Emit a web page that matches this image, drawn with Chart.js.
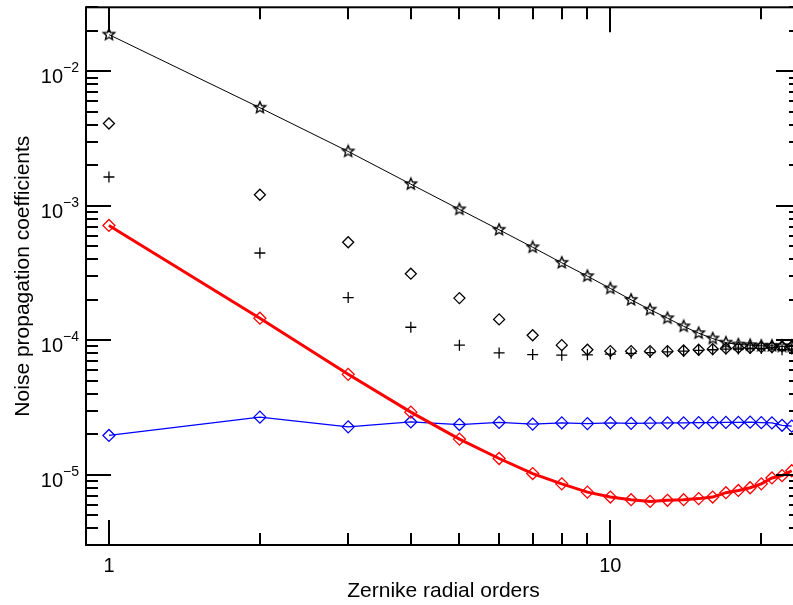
<!DOCTYPE html>
<html>
<head>
<meta charset="utf-8">
<script src="https://cdn.jsdelivr.net/npm/chart.js@4"></script>
<style>
html, body { margin: 0; padding: 0; background: #fff; overflow: hidden; }
#wrap { width: 810px; height: 605px; }
</style>
</head>
<body>
<div id="wrap"><canvas id="chart" width="810" height="605"></canvas></div>
<script>
// --- Data ---
const orders = [1,2,3,4,5,6,7,8,9,10,11,12,13,14,15,16,17,18,19,20,21,22,23];
const starVals = [1.88e-2,5.37e-3,2.54e-3,1.45e-3,9.42e-4,6.64e-4,4.92e-4,3.77e-4,3.0e-4,2.43e-4,2.0e-4,1.69e-4,1.46e-4,1.27e-4,1.13e-4,1.03e-4,9.6e-5,9.3e-5,9.2e-5,9.1e-5,9.1e-5,9.0e-5,9.0e-5];
const diamondVals = [4.1e-3,1.21e-3,5.36e-4,3.13e-4,2.06e-4,1.43e-4,1.09e-4,9.2e-5,8.5e-5,8.3e-5,8.3e-5,8.3e-5,8.3e-5,8.4e-5,8.5e-5,8.6e-5,8.7e-5,8.8e-5,8.8e-5,8.9e-5,8.9e-5,9.0e-5,9.0e-5];
const plusVals = [1.64e-3,4.46e-4,2.08e-4,1.25e-4,9.2e-5,8.05e-5,7.83e-5,7.75e-5,7.8e-5,7.9e-5,8.0e-5,8.1e-5,8.2e-5,8.3e-5,8.4e-5,8.5e-5,8.6e-5,8.6e-5,8.7e-5,8.7e-5,8.8e-5,8.5e-5,8.6e-5];
const redVals = [7.15e-4,1.46e-4,5.58e-5,2.92e-5,1.84e-5,1.32e-5,1.02e-5,8.55e-6,7.42e-6,6.82e-6,6.52e-6,6.33e-6,6.45e-6,6.52e-6,6.64e-6,6.82e-6,7.35e-6,7.64e-6,8.0e-6,8.55e-6,9.46e-6,9.84e-6,1.07e-5];
const blueVals = [1.96e-5,2.68e-5,2.27e-5,2.47e-5,2.36e-5,2.45e-5,2.38e-5,2.43e-5,2.40e-5,2.43e-5,2.41e-5,2.42e-5,2.43e-5,2.43e-5,2.44e-5,2.44e-5,2.45e-5,2.45e-5,2.46e-5,2.44e-5,2.43e-5,2.33e-5,2.30e-5];

const xTickLabels = ['1', '10'];
const yDecades = [-5, -4, -3, -2];
const xTitle = 'Zernike radial orders';
const yTitle = 'Noise propagation coefficients';

const FONT = '"Liberation Sans", Arial, sans-serif';

// --- Marker: open five-point star ---
function starImage(r) {
  const c = document.createElement('canvas');
  const s = Math.ceil(r * 2 + 4);
  c.width = s; c.height = s;
  const g = c.getContext('2d');
  g.translate(s / 2, s / 2);
  g.beginPath();
  for (let i = 0; i < 10; i++) {
    const a = -Math.PI / 2 + i * Math.PI / 5;
    const rr = i % 2 ? r * 0.45 : r;
    g.lineTo(rr * Math.cos(a), rr * Math.sin(a));
  }
  g.closePath();
  g.strokeStyle = '#000';
  g.lineWidth = 1.4;
  g.stroke();
  return c;
}

const pts = vals => orders.map((o, i) => ({ x: o, y: vals[i] }));

// --- Frame, ticks and labels drawn IDL style ---
const frame = {
  id: 'frame',
  afterDraw(chart) {
    const { ctx, chartArea: a, scales: { x, y } } = chart;
    ctx.save();
    ctx.strokeStyle = '#000';
    ctx.lineWidth = 2;
    const line = (x1, y1, x2, y2) => { ctx.beginPath(); ctx.moveTo(x1, y1); ctx.lineTo(x2, y2); ctx.stroke(); };
    ctx.strokeRect(a.left, a.top, a.right - a.left, a.bottom - a.top);

    // x ticks
    for (let d = 0; d <= 1; d++) {
      for (let m = 1; m <= 9; m++) {
        const v = m * Math.pow(10, d);
        if (v < x.min || v > x.max) continue;
        const px = Math.round(x.getPixelForValue(v));
        const len = m === 1 ? 25 : 12;
        line(px, a.bottom, px, a.bottom - len);
        line(px, a.top, px, a.top + len);
      }
    }
    // y ticks
    for (let e = -6; e <= -1; e++) {
      for (let m = 1; m <= 9; m++) {
        const v = m * Math.pow(10, e);
        if (v < y.min || v > y.max) continue;
        const py = Math.round(y.getPixelForValue(v));
        const len = m === 1 ? 25 : 12;
        line(a.left, py, a.left + len, py);
        line(a.right, py, a.right - len, py);
      }
    }

    // tick labels
    ctx.fillStyle = '#000';
    ctx.font = '20px ' + FONT;
    ctx.textAlign = 'center';
    ctx.textBaseline = 'alphabetic';
    xTickLabels.forEach(t => {
      ctx.fillText(t, x.getPixelForValue(Number(t)), 572);
    });
    yDecades.forEach(e => {
      const py = y.getPixelForValue(Math.pow(10, e));
      ctx.font = '20px ' + FONT;
      ctx.textAlign = 'right';
      ctx.fillText('10', 63, py + 12);
      ctx.font = '14px ' + FONT;
      ctx.textAlign = 'left';
      ctx.fillText('\u2212' + Math.abs(e), 63, py + 1);
    });

    // axis titles
    ctx.font = '21px ' + FONT;
    ctx.textAlign = 'center';
    ctx.fillText(xTitle, (a.left + a.right) / 2, 597);
    ctx.save();
    ctx.translate(29, (a.top + a.bottom) / 2);
    ctx.rotate(-Math.PI / 2);
    ctx.fillText(yTitle, 0, 0);
    ctx.restore();
    ctx.restore();
  }
};

new Chart(document.getElementById('chart'), {
  type: 'line',
  data: {
    datasets: [
      { data: pts(starVals), borderColor: '#000', borderWidth: 1, pointStyle: starImage(6), pointRadius: 5, tension: 0 },
      { data: pts(diamondVals), showLine: false, borderColor: '#000', pointStyle: 'rectRot', pointRadius: 5.5, pointBorderWidth: 1.3, pointBackgroundColor: 'rgba(0,0,0,0)' },
      { data: pts(plusVals), showLine: false, borderColor: '#000', pointStyle: 'cross', pointRadius: 5.5, pointBorderWidth: 1.3 },
      { data: pts(redVals), borderColor: '#ff0000', borderWidth: 3, pointStyle: 'rectRot', pointRadius: 6, pointBorderWidth: 1.3, pointBorderColor: '#ff0000', pointBackgroundColor: 'rgba(0,0,0,0)', tension: 0 },
      { data: pts(blueVals), borderColor: '#0000ff', borderWidth: 1.3, pointStyle: 'rectRot', pointRadius: 6, pointBorderWidth: 1.3, pointBorderColor: '#0000ff', pointBackgroundColor: 'rgba(0,0,0,0)', tension: 0 }
    ]
  },
  options: {
    responsive: false,
    animation: false,
    events: [],
    layout: { padding: { left: 86, top: 3, right: 9, bottom: 60 } },
    plugins: { legend: { display: false }, tooltip: { enabled: false } },
    scales: {
      x: { type: 'logarithmic', min: 0.9, max: 24, display: false },
      y: { type: 'logarithmic', min: 3e-6, max: 3e-2, display: false }
    }
  },
  plugins: [frame]
});
</script>
</body>
</html>
